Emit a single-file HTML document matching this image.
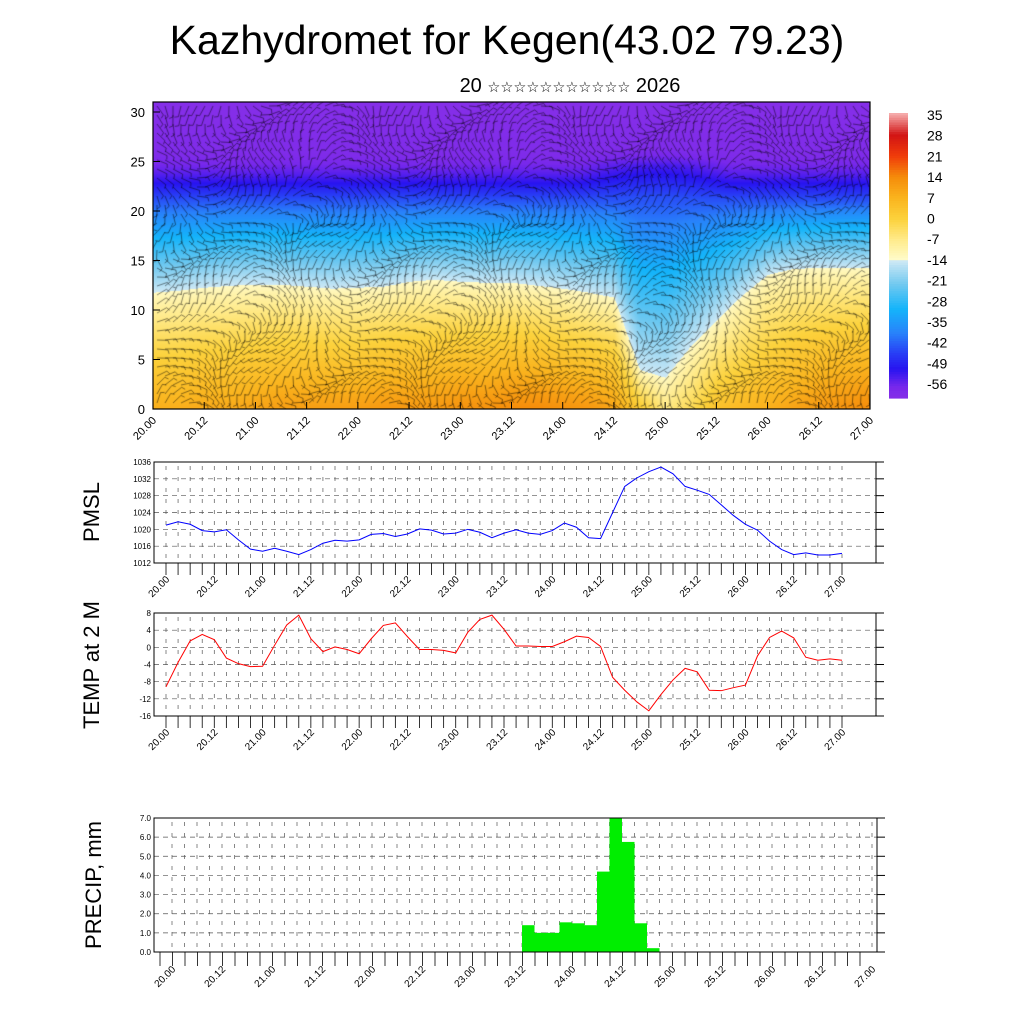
<!DOCTYPE html>
<html><head><meta charset="utf-8"><style>
html,body{margin:0;padding:0;background:#fff;width:1024px;height:1024px;overflow:hidden}
#wrap{position:relative;width:1024px;height:1024px}
#field{position:absolute;left:153px;top:102px}
svg{position:absolute;left:0;top:0}
text{font-family:"Liberation Sans","DejaVu Sans",sans-serif}
</style></head><body>
<div id="wrap">
<canvas id="field" width="717" height="307"></canvas>
<svg id="svg" width="1024" height="1024" xmlns="http://www.w3.org/2000/svg">
<text x="507" y="54" font-size="41" text-anchor="middle">Kazhydromet for Kegen(43.02 79.23)</text>
<text x="570" y="92" font-size="20" text-anchor="middle">20 <tspan font-size="14.5">☆☆☆☆☆☆☆☆☆☆☆</tspan> 2026</text>
</svg>
</div>
<script>
// ---- data ----
const timeLabels = ["20.00","20.12","21.00","21.12","22.00","22.12","23.00","23.12","24.00","24.12","25.00","25.12","26.00","26.12","27.00"];
const pmsl = [1021,1021.8,1021.2,1019.7,1019.4,1019.9,1017.5,1015.3,1014.8,1015.5,1014.8,1014.0,1015.2,1016.7,1017.4,1017.2,1017.5,1018.8,1019.0,1018.3,1018.9,1020.1,1019.8,1018.9,1019.1,1020.0,1019.3,1018.0,1019.1,1019.9,1019.1,1018.8,1019.7,1021.5,1020.5,1018.0,1017.8,1024,1030.2,1032.2,1033.7,1034.8,1033.2,1030.2,1029.3,1028.3,1025.8,1023.3,1021.2,1019.8,1017.2,1015.2,1014.0,1014.4,1013.9,1013.9,1014.3];
const temp2m = [-9.2,-3.5,1.5,3.0,1.8,-2.5,-3.8,-4.5,-4.4,0.5,5.2,7.5,2.0,-1.0,0.1,-0.5,-1.5,2.0,5.1,5.7,2.5,-0.5,-0.5,-0.7,-1.3,3.5,6.5,7.5,4.2,0.3,0.3,0.2,0.2,1.3,2.6,2.3,0.2,-7.0,-10.0,-12.7,-14.8,-11.0,-7.6,-4.9,-5.7,-10.0,-10.1,-9.4,-8.8,-2.0,2.3,3.8,2.2,-2.3,-3.0,-2.7,-3.0];
const precipStart = 28;
const precip = [1.4,1.0,1.0,1.55,1.5,1.4,4.2,7.0,5.75,1.5,0.2];
const boundaryKm = [11.8,12.0,12.3,12.5,12.6,12.6,12.4,12.2,12.3,12.4,12.9,13.1,12.9,12.8,12.8,12.5,12.2,11.8,11.3,4.0,3.2,6.4,9.0,11.5,13.6,14.2,14.3,14.3,14.3];
const surfaceT = [8,8,9,9,10,11,11,11,11,12,12,12,13,13,14,14,13,12,10,2,-6,-2,4,6,8,10,12,13,14];
const cbLabels = [35,28,21,14,7,0,-7,-14,-21,-28,-35,-42,-49,-56];
const pmslTicks = [1012,1016,1020,1024,1028,1032,1036];
const tempTicks = [-16,-12,-8,-4,0,4,8];
const precipTicks = [0,1,2,3,4,5,6,7];

const NS="http://www.w3.org/2000/svg";
const svg=document.getElementById('svg');
function el(tag,attrs,parent){const e=document.createElementNS(NS,tag);for(const k in attrs)e.setAttribute(k,attrs[k]);(parent||svg).appendChild(e);return e;}

// ---- colormap ----
const cmap=[[-62,140,50,230],[-56,120,40,235],[-50,40,20,240],[-45,40,60,245],[-38,40,130,250],[-30,20,180,250],[-22,110,200,240],[-14,205,232,245],[-13.9,255,252,205],[-7,255,235,140],[0,252,210,60],[7,250,180,30],[14,245,140,10],[21,240,60,10],[28,210,20,20],[35,245,170,170]];
function col(t){if(t<=cmap[0][0])return cmap[0].slice(1);for(let i=1;i<cmap.length;i++){if(t<=cmap[i][0]){const a=cmap[i-1],b=cmap[i],f=(t-a[0])/(b[0]-a[0]);return [a[1]+f*(b[1]-a[1]),a[2]+f*(b[2]-a[2]),a[3]+f*(b[3]-a[3])];}}return cmap[cmap.length-1].slice(1);}
const yT=[[102,-60],[155,-58],[172,-54],[183,-50],[197,-44],[212,-38],[235,-30],[260,-22],[285,-14]];
function tAbove(y){if(y<=yT[0][0])return yT[0][1];for(let i=1;i<yT.length;i++){if(y<=yT[i][0]){const a=yT[i-1],b=yT[i];return a[1]+(y-a[0])/(b[0]-a[0])*(b[1]-a[1]);}}return -14;}
function interpArr(arr,x){const p=(x-153)/717*(arr.length-1);const i=Math.max(0,Math.min(arr.length-2,Math.floor(p)));const f=Math.min(1,Math.max(0,p-i));return arr[i]+f*(arr[i+1]-arr[i]);}

// ---- field ----
const cv=document.getElementById('field'),cx=cv.getContext('2d');
const img=cx.createImageData(717,307);
for(let px=0;px<717;px++){const X=153+px;const by=409-interpArr(boundaryKm,X)*9.9;const Tb=interpArr(surfaceT,X);
 let bump=0; if(X>580&&X<730)bump=12*Math.sin((X-580)/150*Math.PI);
 for(let py=0;py<307;py++){const Y=102+py;let T;
  if(Y<by){let ye=Y<200?Y:200+(Y-200)*85/Math.max(1,by-200);if(Y<200)ye=Y+bump*Math.max(0,1-Math.abs(Y-165)/40);T=tAbove(ye);}
  else{const f=(Y-by)/Math.max(1,409-by);T=-13+Math.pow(f,0.8)*(Tb+13);}
  const c=col(T);const k=(py*717+px)*4;img.data[k]=c[0];img.data[k+1]=c[1];img.data[k+2]=c[2];img.data[k+3]=255;}}
cx.putImageData(img,0,0);
// wind barbs texture
cx.strokeStyle='rgba(0,0,0,0.6)';cx.lineWidth=0.8;
for(let gx=4;gx<717;gx+=8){for(let gy=4;gy<307;gy+=9){
 const a=Math.sin(gx*0.031+gy*0.017)*1.4+Math.cos(gy*0.05)*0.8+(gy<120?-0.1:0.6);
 const L=11,x0=gx,y0=gy,x1=gx+Math.cos(a)*L,y1=gy+Math.sin(a)*L;
 cx.beginPath();cx.moveTo(x0,y0);cx.lineTo(x1,y1);
 cx.lineTo(x1+Math.cos(a+1.2)*4,y1+Math.sin(a+1.2)*4);cx.stroke();}}

// ---- main frame & axes ----
el('rect',{x:153,y:102,width:717,height:307,fill:'none',stroke:'#000','stroke-width':1.2,});
for(let v=0;v<=30;v+=5){const y=409-v*9.9;
 const t=el('text',{x:145,y:y+5,'font-size':13,'text-anchor':'end',});t.textContent=v;
 el('line',{x1:153,y1:y,x2:160,y2:y,stroke:'#000',});}
timeLabels.forEach((s,i)=>{const x=153+i*717/14;
 el('line',{x1:x,y1:409,x2:x,y2:402,stroke:'#000',});
 const t=el('text',{'font-size':11,'text-anchor':'end',transform:`translate(${x+4},${421}) rotate(-45)`,});t.textContent=s;});

// colorbar
const cbTop=113,cbBot=398,cbX=889,cbW=19;
for(let i=0;i<120;i++){const f=i/120;const T=35-(f)*(35+60);const c=col(T);
 el('rect',{x:cbX,y:cbTop+f*(cbBot-cbTop),width:cbW,height:(cbBot-cbTop)/120+0.6,fill:`rgb(${c.map(Math.round).join(',')})`,});}
cbLabels.forEach((v,i)=>{const y=115+i*20.7;const t=el('text',{x:927,y:y+5,'font-size':14,});t.textContent=v;});

// ---- generic line panel ----
function panel(name,top,bot,ticks,vals,color,label,labelY,fmt){
 const L=154,R=876,x0=166,x1=842;const lo=ticks[0],hi=ticks[ticks.length-1];
 const ys=v=>bot-(v-lo)/(hi-lo)*(bot-top);const xs=i=>x0+i*(x1-x0)/56;
 for(let i=0;i<=56;i++){const x=xs(i);
  el('line',{x1:x,y1:top+4,x2:x,y2:bot-2,stroke:'#555','stroke-width':0.7,'stroke-dasharray':'4,7',});
  el('line',{x1:x,y1:bot,x2:x,y2:bot+12,stroke:'#000','stroke-width':0.8,});}
 ticks.forEach(v=>{const y=ys(v);
  el('line',{x1:L,y1:y,x2:R,y2:y,stroke:'#555','stroke-width':0.7,'stroke-dasharray':'5,4',});
  el('line',{x1:R,y1:y,x2:R+8,y2:y,stroke:'#000',});
  const t=el('text',{x:L-3,y:y+3,'font-size':8,'text-anchor':'end',});t.textContent=fmt(v);});
 el('rect',{x:L,y:top,width:R-L,height:bot-top,fill:'none',stroke:'#000','stroke-width':1,});
 timeLabels.forEach((s,k)=>{const x=xs(k*4);const t=el('text',{'font-size':10,'text-anchor':'end',transform:`translate(${x+4},${bot+17}) rotate(-45)`,});t.textContent=s;});
 el('polyline',{points:vals.map((v,i)=>xs(i)+','+ys(v)).join(' '),fill:'none',stroke:color,'stroke-width':1,});
 const t=el('text',{'font-size':22,'text-anchor':'middle',transform:`translate(99,${labelY}) rotate(-90)`,});t.textContent=label;
}
panel('pmsl',462,563,pmslTicks,pmsl,'#0000ff','PMSL',512,v=>v);
panel('temp',613,716,tempTicks,temp2m,'#ff0000','TEMP at 2 M',665,v=>v);

// ---- precip ----
(function(){const L=154,R=877,top=818,bot=952;const xs=i=>172+i*12.5;const ys=v=>bot-v/7*(bot-top);
 for(let i=0;i<=56;i++){const x=xs(i);
  el('line',{x1:x,y1:top+4,x2:x,y2:bot-2,stroke:'#555','stroke-width':0.7,'stroke-dasharray':'4,7',});
  el('line',{x1:x-12,y1:bot,x2:x-12,y2:bot+14,stroke:'#000','stroke-width':0.8,});}
 precipTicks.forEach(v=>{const y=ys(v);
  el('line',{x1:L,y1:y,x2:R,y2:y,stroke:'#555','stroke-width':0.7,'stroke-dasharray':'5,4',});
  el('line',{x1:R,y1:y,x2:R+8,y2:y,stroke:'#000',});
  const t=el('text',{x:L-3,y:y+3,'font-size':8,'text-anchor':'end',});t.textContent=v.toFixed(1);});
 precip.forEach((v,k)=>{const i=precipStart+k;
  const b=el('rect',{x:xs(i),y:ys(v),width:12.5,height:bot-ys(v),fill:'#00ee00'});
  
  });
 el('rect',{x:L,y:top,width:R-L,height:bot-top,fill:'none',stroke:'#000','stroke-width':1,});
 timeLabels.forEach((s,k)=>{const x=xs(k*4);const t=el('text',{'font-size':10,'text-anchor':'end',transform:`translate(${x+4},${bot+18}) rotate(-45)`,});t.textContent=s;});
 const t=el('text',{'font-size':22,'text-anchor':'middle',transform:`translate(101,885) rotate(-90)`,});t.textContent='PRECIP, mm';
})();
</script>
</body></html>
